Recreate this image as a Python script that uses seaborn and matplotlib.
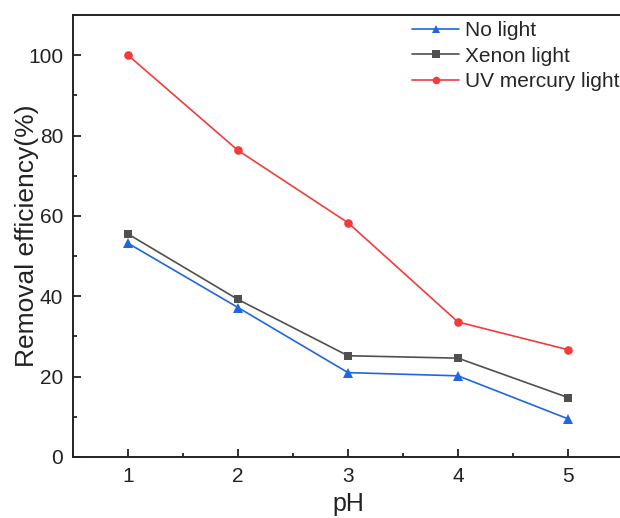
import matplotlib
matplotlib.use("Agg")
import matplotlib.pyplot as plt
import seaborn as sns
import pandas as pd
from matplotlib.ticker import MultipleLocator

ph = [1, 2, 3, 4, 5]
no_light = [53.2, 37.2, 21.0, 20.2, 9.5]
xenon = [55.5, 39.2, 25.2, 24.6, 14.8]
uv = [100.0, 76.3, 58.3, 33.6, 26.7]
series_names = ["No light", "Xenon light", "UV mercury light"]

df = pd.DataFrame({
    "pH": ph * 3,
    "value": no_light + xenon + uv,
    "series": [series_names[0]] * 5 + [series_names[1]] * 5 + [series_names[2]] * 5,
})

sns.set_theme(style="ticks")
plt.rcParams["font.family"] = ["Liberation Sans", "DejaVu Sans"]

fig = plt.figure(figsize=(6.2, 5.18), dpi=100)
ax = fig.add_axes([73 / 620, 1 - 457 / 518, 550 / 620, (457 - 15) / 518])

palette = {"No light": "#1f66e0", "Xenon light": "#505050", "UV mercury light": "#f23c3c"}
markers = {"No light": "^", "Xenon light": "s", "UV mercury light": "o"}
sns.lineplot(data=df, x="pH", y="value", hue="series", style="series",
             palette=palette, markers=markers, dashes=False, markersize=6,
             markeredgewidth=0, linewidth=1.2, ax=ax, legend="auto")

for ln in ax.lines:
    m = ln.get_marker()
    if m == "^":
        ln.set_markersize(7.5)
    elif m == "s":
        ln.set_markersize(5.8)
    elif m == "o":
        ln.set_markersize(6.2)

ax.set_xlim(0.5, 5.5)
ax.set_ylim(0, 110)
ax.xaxis.set_major_locator(MultipleLocator(1))
ax.xaxis.set_minor_locator(MultipleLocator(0.5))
ax.yaxis.set_major_locator(MultipleLocator(20))
ax.yaxis.set_minor_locator(MultipleLocator(10))
ax.tick_params(which="major", direction="in", length=6, width=1.3, labelsize=15,
               colors="#222222", pad=7)
ax.tick_params(which="minor", direction="in", length=3, width=1.3, colors="#222222")
for s in ax.spines.values():
    s.set_linewidth(1.4)
    s.set_color("#222222")

ax.set_xlabel("pH", fontsize=18, color="#222222")
ax.set_ylabel("Removal efficiency(%)", fontsize=19, color="#222222")
ax.yaxis.set_label_coords(-0.0625, 0.5)
ax.xaxis.set_label_coords(0.5, -0.079)

leg = ax.legend(loc="upper left", bbox_to_anchor=(412 / 620, 1 - 21 / 518),
                bbox_transform=fig.transFigure, frameon=False, fontsize=15,
                handlelength=2.26, handletextpad=0.29, labelspacing=0.32,
                borderaxespad=0, borderpad=0)
for h in leg.get_lines():
    h.set_markersize(5.5)
    h.set_linewidth(1.2)

fig.savefig("out.png", dpi=100)
